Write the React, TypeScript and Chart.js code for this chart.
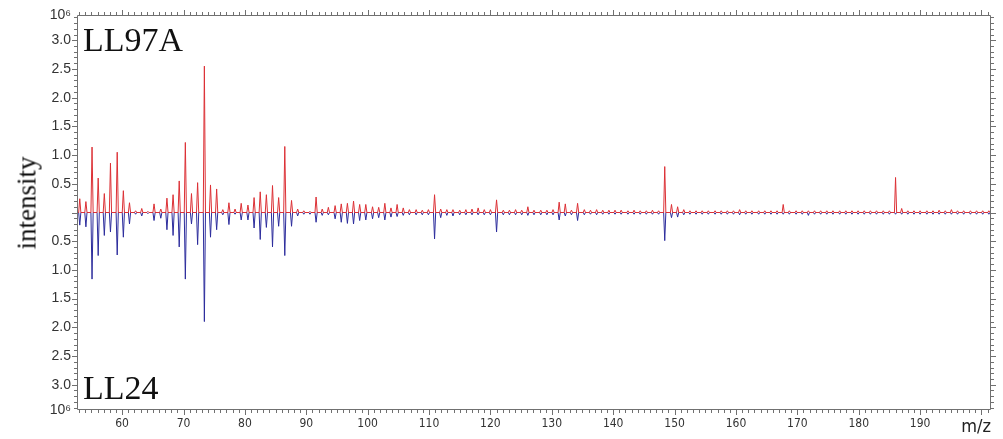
import React, { useEffect, useRef } from 'react';
import { Chart, registerables } from 'chart.js';

Chart.register(...registerables);

// axis ranges (m/z and intensity ×10^6)
const X_MIN = 52.65;
const X_MAX = 201.55;
const Y_MAX = 3.44;

const xTickValues = [60, 70, 80, 90, 100, 110, 120, 130, 140, 150, 160, 170, 180, 190];
const yTickValues = [-3.44, -3, -2.5, -2, -1.5, -1, -0.5, 0.5, 1, 1.5, 2, 2.5, 3, 3.44];
const yExponentLabel = '10\u2076';

// peak positions (m/z, as read against the drawn axis)
const mzPositions = [
  53.1, 54.1, 55.1, 56.1, 57.1, 58.1, 59.2, 60.2, 61.2, 62.2,
  63.2, 64.2, 65.2, 66.3, 67.3, 68.3, 69.3, 70.3, 71.3, 72.3,
  73.4, 74.4, 75.4, 76.4, 77.4, 78.4, 79.4, 80.5, 81.5, 82.5,
  83.5, 84.5, 85.5, 86.5, 87.6, 88.6, 89.6, 90.6, 91.6, 92.6,
  93.6, 94.7, 95.7, 96.7, 97.7, 98.7, 99.7, 100.8, 101.8, 102.8,
  103.8, 104.8, 105.8, 106.8, 107.9, 108.9, 109.9, 110.9, 111.9, 112.9,
  113.9, 115.0, 116.0, 117.0, 118.0, 119.0, 120.0, 121.0, 122.1, 123.1,
  124.1, 125.1, 126.1, 127.1, 128.2, 129.2, 130.2, 131.2, 132.2, 133.2,
  134.2, 135.3, 136.3, 137.3, 138.3, 139.3, 140.3, 141.3, 142.4, 143.4,
  144.4, 145.4, 146.4, 147.4, 148.4, 149.5, 150.5, 151.5, 152.5, 153.5,
  154.5, 155.5, 156.6, 157.6, 158.6, 159.6, 160.6, 161.6, 162.6, 163.7,
  164.7, 165.7, 166.7, 167.7, 168.7, 169.8, 170.8, 171.8, 172.8, 173.8,
  174.8, 175.8, 176.9, 177.9, 178.9, 179.9, 180.9, 181.9, 182.9, 184.0,
  185.0, 186.0, 187.0, 188.0, 189.0, 190.0, 191.1, 192.1, 193.1, 194.1,
  195.1, 196.1, 197.1, 198.2, 199.2, 200.2, 201.2,
];

// LL97A intensities (×10^6), plotted upward
const ll97aIntensity = [
  0.24, 0.19, 1.14, 0.60, 0.33, 0.86, 1.05, 0.38, 0.17, 0.03,
  0.07, 0.02, 0.15, 0.06, 0.25, 0.31, 0.55, 1.22, 0.33, 0.52,
  2.55, 0.48, 0.41, 0.05, 0.17, 0.06, 0.16, 0.13, 0.26, 0.36,
  0.31, 0.47, 0.26, 1.15, 0.21, 0.06, 0.03, 0.02, 0.27, 0.06,
  0.09, 0.12, 0.15, 0.16, 0.20, 0.14, 0.14, 0.10, 0.09, 0.16,
  0.08, 0.14, 0.08, 0.05, 0.05, 0.04, 0.05, 0.31, 0.06, 0.05,
  0.05, 0.04, 0.05, 0.06, 0.08, 0.05, 0.05, 0.22, 0.04, 0.04,
  0.05, 0.04, 0.10, 0.04, 0.04, 0.04, 0.05, 0.18, 0.15, 0.04,
  0.16, 0.05, 0.04, 0.05, 0.04, 0.04, 0.04, 0.04, 0.03, 0.04,
  0.03, 0.03, 0.04, 0.03, 0.80, 0.14, 0.10, 0.05, 0.03, 0.03,
  0.03, 0.03, 0.03, 0.03, 0.03, 0.03, 0.05, 0.03, 0.03, 0.03,
  0.03, 0.03, 0.03, 0.14, 0.03, 0.03, 0.03, 0.03, 0.03, 0.03,
  0.03, 0.03, 0.03, 0.03, 0.03, 0.03, 0.03, 0.03, 0.03, 0.03,
  0.03, 0.61, 0.07, 0.03, 0.03, 0.03, 0.03, 0.03, 0.04, 0.03,
  0.05, 0.03, 0.03, 0.03, 0.03, 0.03, 0.03,
];

// LL24 intensities (×10^6), plotted downward
const ll24Intensity = [
  0.22, 0.25, 1.16, 0.75, 0.40, 0.34, 0.74, 0.43, 0.20, 0.03,
  0.06, 0.02, 0.14, 0.10, 0.30, 0.40, 0.60, 1.16, 0.20, 0.56,
  1.90, 0.43, 0.30, 0.04, 0.21, 0.03, 0.13, 0.13, 0.27, 0.47,
  0.26, 0.60, 0.24, 0.75, 0.24, 0.06, 0.03, 0.03, 0.17, 0.05,
  0.04, 0.11, 0.17, 0.19, 0.20, 0.14, 0.13, 0.11, 0.09, 0.13,
  0.08, 0.07, 0.05, 0.04, 0.04, 0.04, 0.04, 0.46, 0.09, 0.05,
  0.06, 0.04, 0.04, 0.04, 0.04, 0.04, 0.04, 0.34, 0.04, 0.04,
  0.04, 0.04, 0.05, 0.04, 0.04, 0.04, 0.04, 0.13, 0.06, 0.04,
  0.14, 0.04, 0.03, 0.04, 0.03, 0.03, 0.03, 0.03, 0.03, 0.03,
  0.03, 0.03, 0.03, 0.03, 0.49, 0.09, 0.08, 0.04, 0.03, 0.03,
  0.03, 0.03, 0.03, 0.03, 0.03, 0.03, 0.04, 0.03, 0.03, 0.03,
  0.03, 0.03, 0.03, 0.03, 0.03, 0.03, 0.03, 0.05, 0.03, 0.03,
  0.03, 0.03, 0.03, 0.03, 0.03, 0.03, 0.03, 0.03, 0.03, 0.03,
  0.03, 0.03, 0.03, 0.03, 0.03, 0.03, 0.03, 0.03, 0.03, 0.03,
  0.03, 0.03, 0.03, 0.03, 0.03, 0.03, 0.03,
];

const PEAK_HALF_WIDTH = 0.18;
const RED = '#dc3035';
const BLUE = '#2c2c9c';
const AXIS_GREY = '#707070';

function buildProfile(values: number[], sign: number) {
  const pts: { x: number; y: number }[] = [{ x: X_MIN, y: 0 }];
  mzPositions.forEach((mz, i) => {
    pts.push({ x: mz - PEAK_HALF_WIDTH, y: 0 });
    pts.push({ x: mz, y: sign * values[i] });
    pts.push({ x: mz + PEAK_HALF_WIDTH, y: 0 });
  });
  pts.push({ x: X_MAX, y: 0 });
  return pts;
}

const frameTicksPlugin = {
  id: 'frameTicks',
  afterDraw(chart: any) {
    const { ctx, chartArea } = chart;
    const { left, right, top, bottom } = chartArea;
    const xs = chart.scales.x;
    const ys = chart.scales.y;
    ctx.save();
    ctx.strokeStyle = AXIS_GREY;
    ctx.lineWidth = 1;
    ctx.beginPath();
    ctx.rect(Math.round(left) + 0.5, Math.round(top) + 0.5, Math.round(right - left) - 1, Math.round(bottom - top) - 1);
    for (let v = Math.ceil(X_MIN); v <= X_MAX; v++) {
      const px = Math.round(xs.getPixelForValue(v)) + 0.5;
      const len = v % 10 === 0 ? 5 : 3;
      ctx.moveTo(px, bottom);
      ctx.lineTo(px, bottom + len);
      ctx.moveTo(px, top);
      ctx.lineTo(px, top - len);
    }
    for (let i = -34; i <= 34; i++) {
      const py = Math.round(ys.getPixelForValue(i / 10)) + 0.5;
      const len = i % 5 === 0 ? 5 : 3;
      ctx.moveTo(left, py);
      ctx.lineTo(left - len, py);
      ctx.moveTo(right, py);
      ctx.lineTo(right + len, py);
    }
    ctx.stroke();
    ctx.restore();
  },
};

export default function App() {
  const canvasRef = useRef<HTMLCanvasElement | null>(null);

  useEffect(() => {
    if (!canvasRef.current) return;
    const chart = new Chart(canvasRef.current, {
      type: 'line',
      data: {
        datasets: [
          {
            label: 'LL97A',
            data: buildProfile(ll97aIntensity, 1),
            borderColor: RED,
            borderWidth: 1,
            pointRadius: 0,
            fill: false,
            tension: 0,
          },
          {
            label: 'LL24',
            data: buildProfile(ll24Intensity, -1),
            borderColor: BLUE,
            borderWidth: 1,
            pointRadius: 0,
            fill: false,
            tension: 0,
          },
        ],
      },
      options: {
        animation: false,
        responsive: false,
        maintainAspectRatio: false,
        layout: { padding: { top: 15, right: 12, left: 0, bottom: 0 } },
        plugins: {
          legend: { display: false },
          tooltip: { enabled: false },
        },
        scales: {
          x: {
            type: 'linear',
            min: X_MIN,
            max: X_MAX,
            grid: { display: false, drawTicks: false },
            border: { display: false },
            afterBuildTicks: (scale: any) => {
              scale.ticks = xTickValues.map((v) => ({ value: v }));
            },
            afterFit: (scale: any) => {
              scale.height = 29;
            },
            ticks: {
              autoSkip: false,
              maxRotation: 0,
              padding: 7,
              color: '#333',
              font: { family: "'Liberation Sans Narrow', 'DejaVu Sans Condensed', 'Liberation Sans', sans-serif", size: 12 },
              callback: (v: any) => String(v),
            },
          },
          y: {
            type: 'linear',
            min: -Y_MAX,
            max: Y_MAX,
            grid: { display: false, drawTicks: false },
            border: { display: false },
            afterBuildTicks: (scale: any) => {
              scale.ticks = yTickValues.map((v) => ({ value: v }));
            },
            afterFit: (scale: any) => {
              scale.width = 77;
            },
            ticks: {
              autoSkip: false,
              padding: 6,
              color: '#333',
              font: { family: "'Liberation Sans', Arial, sans-serif", size: 14 },
              callback: (v: any) => {
                const a = Math.abs(Number(v));
                return a > 3.2 ? yExponentLabel : a.toFixed(1);
              },
            },
          },
        },
      },
      plugins: [frameTicksPlugin],
    });
    return () => chart.destroy();
  }, []);

  const serif = "'Liberation Serif', 'Times New Roman', serif";
  return (
    <div style={{ position: 'absolute', left: 0, top: 0, width: 1003, height: 439, background: '#fff', overflow: 'hidden' }}>
      <canvas ref={canvasRef} width={1003} height={439} style={{ position: 'absolute', left: 0, top: 0 }} />
      <div style={{ position: 'absolute', left: 83, top: 23, font: `34px ${serif}`, lineHeight: 1, color: '#111', whiteSpace: 'nowrap' }}>LL97A</div>
      <div style={{ position: 'absolute', left: 83, top: 371, font: `34px ${serif}`, lineHeight: 1, color: '#111', whiteSpace: 'nowrap' }}>LL24</div>
      <div
        style={{
          position: 'absolute',
          left: 27,
          top: 203,
          transform: 'translate(-50%, -50%) rotate(-90deg)',
          font: `27px ${serif}`,
          lineHeight: 1,
          color: '#111',
          whiteSpace: 'nowrap',
        }}
      >
        intensity
      </div>
      <div
        style={{
          position: 'absolute',
          right: 12,
          top: 417,
          font: "18px 'Liberation Sans Narrow', 'DejaVu Sans Condensed', 'Liberation Sans', sans-serif",
          lineHeight: 1,
          color: '#222',
          whiteSpace: 'nowrap',
        }}
      >
        m/z
      </div>
    </div>
  );
}
